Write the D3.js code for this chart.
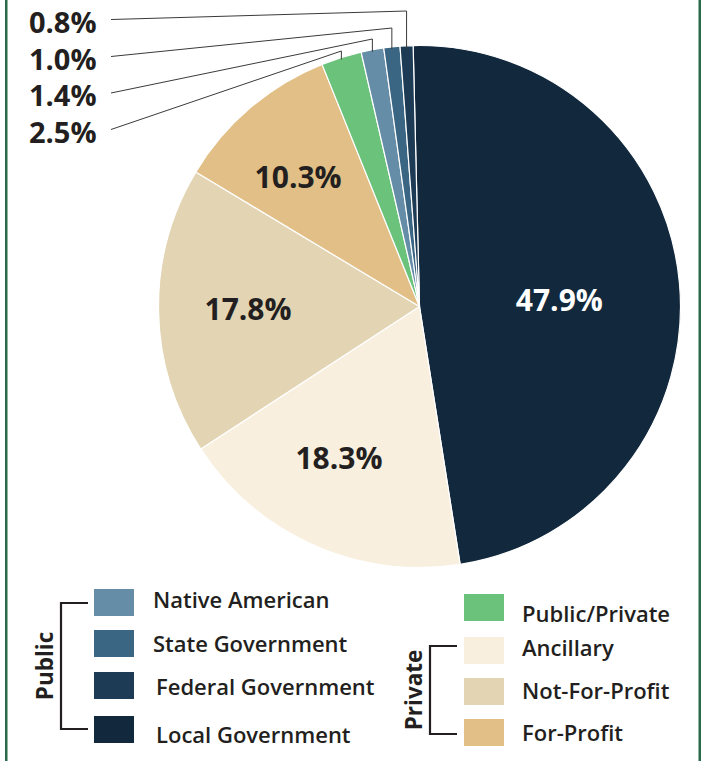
<!DOCTYPE html>
<html><head><meta charset="utf-8">
<script src="https://cdn.jsdelivr.net/npm/d3@7"></script>
<style>body{margin:0;background:#fff;} svg{display:block;font-family:"Open Sans",sans-serif;}</style>
</head><body>
<svg id="c" width="702" height="761"></svg>
<script>
const categories = ["Local Government","Ancillary","Not-For-Profit","For-Profit","Public/Private","Native American","State Government","Federal Government"];
const values = [47.9, 18.3, 17.8, 10.3, 2.5, 1.4, 1.0, 0.8];
const colors = ["#12283c","#f8efde","#e3d5b4","#e2bf86","#6bc27a","#668da7","#3a6583","#1d3b54"];
const insideLabels = ["47.9%","18.3%","17.8%","10.3%"];
const outsideLabels = ["2.5%","1.4%","1.0%","0.8%"];
const publicLegend = ["Native American","State Government","Federal Government","Local Government"];
const privateLegend = ["Public/Private","Ancillary","Not-For-Profit","For-Profit"];

const svg = d3.select("#c");
const cx = 419.5, cy = 306.5, R = 261;
const offset = -1.4 * Math.PI / 180;
const pie = d3.pie().sort(null).value(d => d.v).startAngle(offset).endAngle(offset + 2*Math.PI);
const data = categories.map((c,i)=>({c, v: values[i], col: colors[i]}));
const arcs = pie(data);
const arc = d3.arc().innerRadius(0).outerRadius(R);
const g = svg.append("g").attr("transform", `translate(${cx},${cy})`);
g.selectAll("path").data(arcs).join("path")
  .attr("d", arc).attr("fill", d => d.data.col)
  .attr("stroke", "#fff").attr("stroke-width", 1.2).attr("stroke-linejoin","round");

// inside labels (polar placement: angle in degrees, radius in px)
const labelAng = [87.3, 208.1, 269.5, 317];
const labelRad = [140, 171, 171.5, 178];
arcs.slice(0,4).forEach((a,i)=>{
  const t = labelAng[i]*Math.PI/180;
  g.append("text").attr("x", labelRad[i]*Math.sin(t)).attr("y", -labelRad[i]*Math.cos(t))
    .attr("text-anchor","middle").attr("dominant-baseline","central")
    .attr("font-size", 30).attr("font-weight", 700)
    .attr("fill", i===0 ? "#fff" : "#231f20").text(insideLabels[i]);
});

// outside labels with leader lines
const outY = [132.5, 96, 59.5, 22.5];
arcs.slice(4).forEach((a,i)=>{
  const ang = (a.startAngle + a.endAngle)/2;
  const px = cx + R*Math.sin(ang), py = cy - R*Math.cos(ang);
  const elbowY = [51, 39, 28, 11][i];
  svg.append("path")
    .attr("d", `M111,${outY[i]-3} L${px},${elbowY} L${px},${py+2}`)
    .attr("fill","none").attr("stroke","#3a3a3a").attr("stroke-width",1);
  svg.append("text").attr("x", 29).attr("y", outY[i] + 0.357*29)
    .attr("font-size", 29).attr("font-weight", 700).attr("fill","#231f20").text(outsideLabels[i]);
});

// border
svg.append("rect").attr("x",5).attr("y",-2).attr("width",2.5).attr("height",765).attr("fill","#2a6a48");
svg.append("rect").attr("x",698.5).attr("y",-2).attr("width",2.5).attr("height",765).attr("fill","#2a6a48");

// legend
const colorOf = c => colors[categories.indexOf(c)];
const pubBoxY = [589, 630, 672, 716];
const pubTextX = [153,153,156,156];
const pubBase = [608, 652, 695, 743];
publicLegend.forEach((c,i)=>{
  svg.append("rect").attr("x",94).attr("y",pubBoxY[i]).attr("width",40).attr("height",27).attr("fill",colorOf(c));
  svg.append("text").attr("x",pubTextX[i]).attr("y",pubBase[i]).attr("font-size",22).attr("font-weight",600).attr("fill","#231f20").text(c);
});
const privBoxY = [594, 637, 678, 719];
const privBase = [622, 656, 699, 741];
privateLegend.forEach((c,i)=>{
  svg.append("rect").attr("x",464).attr("y",privBoxY[i]).attr("width",40).attr("height",27).attr("fill",colorOf(c));
  svg.append("text").attr("x",522).attr("y",privBase[i]).attr("font-size",22).attr("font-weight",600).attr("fill","#231f20").text(c);
});
// brackets
svg.append("path").attr("d","M88,603 L61,603 L61,729 L88,729").attr("fill","none").attr("stroke","#231f20").attr("stroke-width",2.2);
svg.append("path").attr("d","M457,646 L430,646 L430,734 L457,734").attr("fill","none").attr("stroke","#231f20").attr("stroke-width",2.2);
svg.append("text").attr("transform","translate(44,666) rotate(-90)").attr("text-anchor","middle").attr("dominant-baseline","central")
  .attr("font-size",22.5).attr("font-weight",700).attr("fill","#231f20").text("Public");
svg.append("text").attr("transform","translate(413,690) rotate(-90)").attr("text-anchor","middle").attr("dominant-baseline","central")
  .attr("font-size",22.5).attr("font-weight",700).attr("fill","#231f20").text("Private");
</script>
</body></html>
